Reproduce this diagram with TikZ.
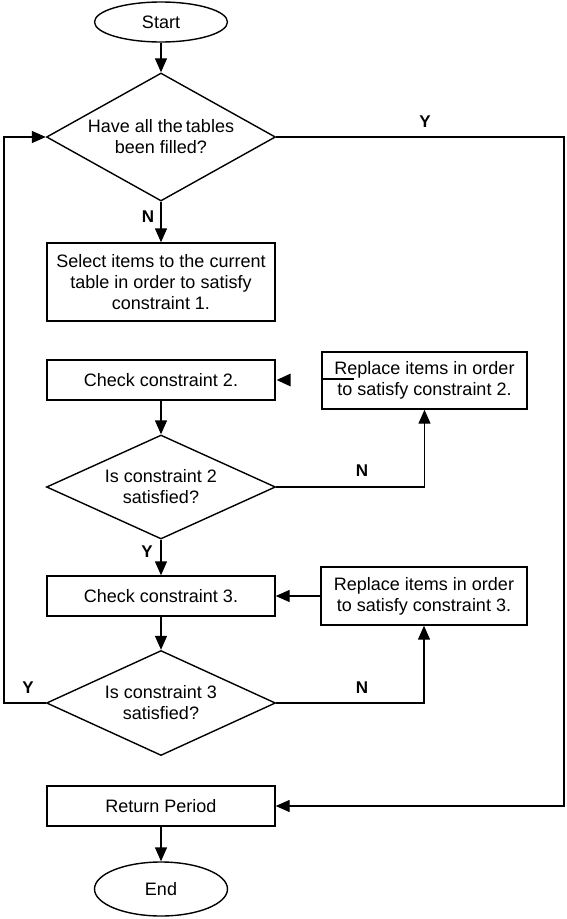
\documentclass[tikz,border=0pt]{standalone}
\usepackage{fontspec}
\setmainfont{Liberation Sans}
\usetikzlibrary{shapes.geometric,arrows.meta}
\tikzset{
  base/.style={draw=black,line width=1.4pt,font=\fontsize{18}{21}\selectfont,align=center,inner sep=0pt},
  term/.style={base,ellipse,minimum width=133pt},
  proc/.style={base,rectangle,minimum width=228pt},
  dec/.style={base,diamond,minimum width=229pt},
  dtext/.style={font=\fontsize{18}{21}\selectfont,align=center,inner sep=0pt},
  conn/.style={line width=1.4pt,-{Triangle[length=14pt,width=12pt]}},
  plain/.style={line width=1.4pt},
  lbl/.style={font=\fontsize{17}{20}\selectfont\bfseries,inner sep=0pt}
}
\begin{document}
\begin{tikzpicture}[x=1pt,y=-1pt]
\useasboundingbox (0,0) rectangle (566,919);
\node[term,minimum height=40pt] (start) at (161,22) {Start};
\node[dec,minimum height=128pt] (d1) at (161,137) {};
\node[dtext] (t1) at (d1) {Have all the\,tables\\been filled?};
\node[proc,minimum height=78pt] (box1) at (161,282) {Select items to the current\\table in order to satisfy\\constraint 1.};
\node[proc,minimum height=40pt] (check2) at (161,380) {Check constraint 2.};
\node[base,rectangle,minimum width=205pt,minimum height=57pt] (rep2) at (424.5,380.5) {Replace items in order\\to satisfy constraint 2.};
\node[dec,minimum height=104pt] (d2) at (161,487) {};
\node[dtext] (t2) at (d2) {Is constraint 2\\satisfied?};
\node[proc,minimum height=40pt] (check3) at (161,596) {Check constraint 3.};
\node[base,rectangle,minimum width=206pt,minimum height=58pt] (rep3) at (424,596) {Replace items in order\\to satisfy constraint 3.};
\node[dec,minimum height=105pt] (d3) at (161,703) {};
\node[dtext] (t3) at (d3) {Is constraint 3\\satisfied?};
\node[proc,minimum height=40pt] (ret) at (161,806) {Return Period};
\node[term,minimum height=54pt] (end) at (161,889) {End};

\coordinate (lx) at (4,703);
\coordinate (rx) at (564,137);

\draw[conn] (start) -- (d1);
\draw[conn] (d1) -- (box1);
\draw[conn] (check2) -- (d2);
\draw[conn] (d2) -- (check3);
\draw[conn] (check3) -- (d3);
\draw[conn] (ret) -- (end);
\draw[conn] (d2.east) -| (rep2.south);
\draw[conn] (d3.east) -| (rep3.south);
\draw[conn] (rep3.west) -- (check3.east);
\draw[conn] (d3.west) -- (lx) |- (d1.west);
\draw[conn] (d1.east) -- (rx) |- (ret.east);
% broken connector remains
\fill ([xshift=1pt]check2.east) -- ++(14,-6.5) -- ++(0,13) -- cycle;
\draw[plain] ([xshift=1pt,yshift=1.5pt]rep2.west) -- ++(32,0);

\node[lbl] (n1) at (148,217) {N};
\node[lbl] (y1) at (425,122) {Y};
\node[lbl] (y2) at (147,552) {Y};
\node[lbl] (n2) at (362,471) {N};
\node[lbl] (n3) at (362,688) {N};
\node[lbl] (y3) at (28,688) {Y};
\end{tikzpicture}
\end{document}
